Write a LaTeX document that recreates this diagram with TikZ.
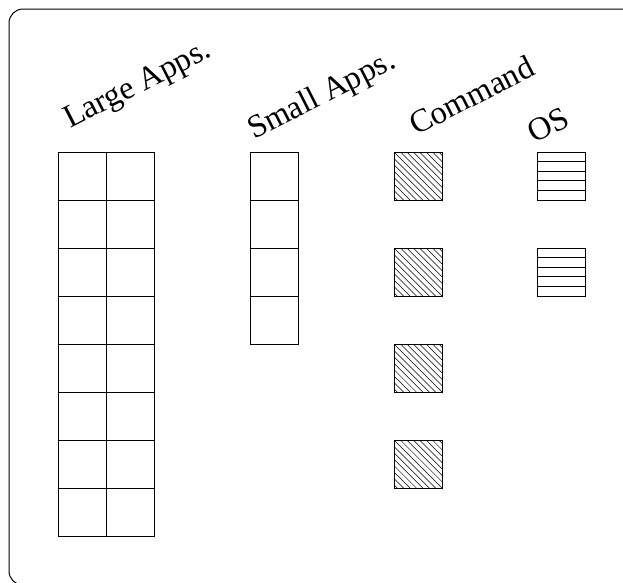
\documentclass[tikz,border=0pt]{standalone}
\usepackage{fontspec}
\setmainfont{Liberation Serif}
\begin{document}
\begin{tikzpicture}[x=1pt,y=-1pt,
  cell/.style={draw, line width=0.9pt, minimum size=48pt, inner sep=0pt, anchor=north west},
  lbl/.style={font=\fontsize{32.5}{38}\selectfont, rotate=27, anchor=base west, inner sep=0pt},
  hatch/.style={line width=0.5pt},
  stripe/.style={line width=1.2pt}]
\useasboundingbox (0,0) rectangle (623,582);
\clip (0,0) rectangle (623,582);
\draw[line width=1pt, rounded corners=14pt] (9,9) rectangle (650,585);
% labels
\node[lbl] (tlarge) at (70,129) {Large Apps.};
\node[lbl] (tsmall) at (254,140) {Small Apps.};
\node[lbl] (tcmd) at (416,136) {Command};
\node[lbl] (tos) at (534,144) {OS};
% large apps grid
\foreach \r in {0,...,7} {
  \node[cell] (la\r) at (58,152+48*\r) {};
  \node[cell] (lb\r) at (106,152+48*\r) {};
}
% small apps
\foreach \r in {0,...,3} {
  \node[cell] (s\r) at (250,152+48*\r) {};
}
% command
\foreach \r in {0,...,3} {
  \begin{scope}
    \clip (394,152+96*\r) rectangle ++(48,48);
    \foreach \k in {-8,...,8} \draw[hatch] (394+\k*6.4,152+96*\r) -- ++(48,48);
  \end{scope}
  \node[cell] (c\r) at (394,152+96*\r) {};
}
% OS
\foreach \r in {0,1} {
  \node[cell] (o\r) at (537,152+96*\r) {};
  \foreach \i in {1,...,4} \draw[stripe] (537,152+96*\r+9.6*\i) -- ++(48,0);
}
\end{tikzpicture}
\end{document}
